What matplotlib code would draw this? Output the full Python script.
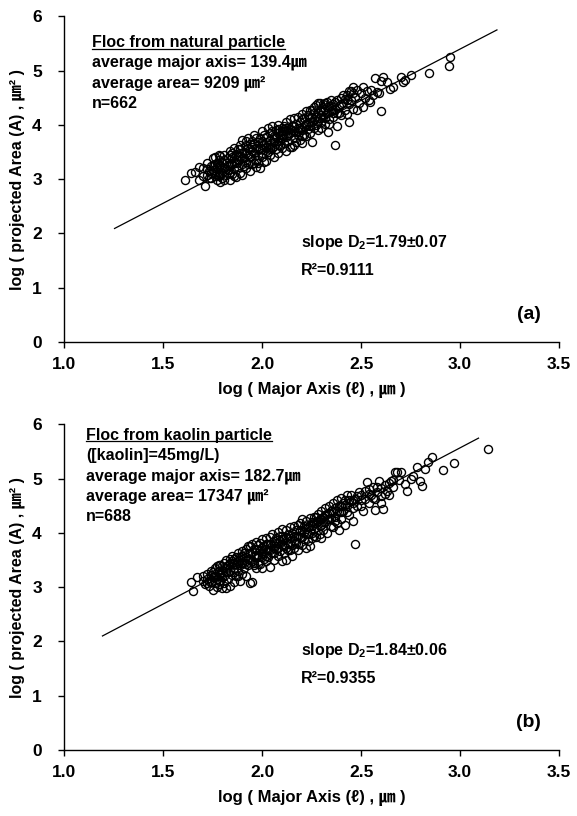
import matplotlib
matplotlib.use("Agg")
import matplotlib.pyplot as plt

plt.rcParams["font.family"] = ["Liberation Sans", "DejaVu Sans", "Noto Sans CJK JP"]
plt.rcParams["font.weight"] = "bold"
plt.rcParams["mathtext.fontset"] = "custom"
plt.rcParams["mathtext.rm"] = "Liberation Sans:bold"
plt.rcParams["mathtext.default"] = "rm"

# ── Panel (a): floc from natural particle ────────────────────────────────────
nat_x = [
    1.61, 1.64, 1.66, 1.68, 1.70, 1.71, 1.72, 1.72, 1.73, 1.74,
    1.74, 1.75, 1.75, 1.76, 1.76, 1.77, 1.77, 1.78, 1.78, 1.78,
    1.79, 1.79, 1.79, 1.80, 1.80, 1.80, 1.81, 1.81, 1.82, 1.82,
    1.83, 1.83, 1.84, 1.84, 1.84, 1.85, 1.85, 1.86, 1.86, 1.86,
    1.87, 1.87, 1.88, 1.88, 1.88, 1.89, 1.89, 1.90, 1.90, 1.90,
    1.91, 1.91, 1.92, 1.92, 1.92, 1.93, 1.93, 1.94, 1.94, 1.94,
    1.95, 1.95, 1.95, 1.96, 1.96, 1.97, 1.97, 1.97, 1.98, 1.98,
    1.99, 1.99, 2.00, 2.00, 2.00, 2.01, 2.01, 2.02, 2.02, 2.02,
    2.03, 2.03, 2.04, 2.04, 2.04, 2.05, 2.05, 2.06, 2.06, 2.06,
    2.07, 2.07, 2.08, 2.08, 2.08, 2.09, 2.09, 2.10, 2.10, 2.10,
    2.11, 2.11, 2.12, 2.12, 2.12, 2.13, 2.13, 2.14, 2.14, 2.14,
    2.15, 2.15, 2.16, 2.16, 2.16, 2.17, 2.17, 2.18, 2.18, 2.18,
    2.19, 2.19, 2.20, 2.20, 2.20, 2.21, 2.21, 2.22, 2.22, 2.22,
    2.23, 2.23, 2.24, 2.24, 2.25, 2.25, 2.25, 2.26, 2.26, 2.26,
    2.27, 2.27, 2.28, 2.28, 2.29, 2.29, 2.30, 2.30, 2.30, 2.31,
    2.31, 2.32, 2.32, 2.33, 2.33, 2.34, 2.34, 2.335, 2.35, 2.35,
    2.36, 2.36, 2.37, 2.37, 2.38, 2.38, 2.38, 2.39, 2.40, 2.40,
    2.41, 2.42, 2.42, 2.43, 2.44, 2.44, 2.45, 2.45, 2.46, 2.46,
    2.47, 2.48, 2.49, 2.50, 2.51, 2.52, 2.53, 2.54, 2.55, 2.56,
    2.57, 2.58, 2.59, 2.60, 2.61, 2.63, 2.66, 2.70, 2.75, 2.95,
    2.645, 2.71, 2.72, 2.845, 2.945, 2.51, 2.545, 2.60, 2.43, 2.48,
    1.78, 1.82, 1.86, 1.90, 1.94, 1.98, 2.02, 2.06, 2.10, 2.14,
    2.18, 2.22, 2.26, 2.30, 2.34, 1.76, 1.84, 1.92, 2.00, 2.08,
    1.72, 1.74, 1.76, 1.77, 1.79, 1.80, 1.81, 1.83, 1.84, 1.85,
    1.86, 1.87, 1.88, 1.89, 1.90, 1.91, 1.92, 1.93, 1.95, 1.96,
    1.97, 1.98, 1.99, 2.00, 2.01, 2.02, 2.03, 2.04, 2.05, 2.07,
    2.08, 2.09, 2.10, 2.11, 2.12, 2.13, 2.15, 2.16, 2.17, 2.19,
    2.20, 2.21, 2.23, 2.24, 2.25, 2.27, 2.28, 2.29, 2.31, 2.32,
    2.33, 2.35, 2.36, 2.37, 2.39, 2.40, 2.41, 2.43, 2.44, 2.46,
    1.68, 1.70, 1.73, 1.75, 1.78, 1.81, 1.85, 1.89, 1.93, 1.96,
    2.00, 2.04, 2.08, 2.12, 2.16, 2.20, 2.24, 2.28, 2.32, 2.36,
]
nat_y = [
    2.99, 3.12, 3.13, 2.99, 3.20, 2.87, 3.08, 3.30, 3.15, 3.25,
    3.02, 3.38, 3.17, 3.10, 3.28, 2.98, 3.22, 3.35, 3.05, 3.14,
    2.95, 3.26, 3.42, 3.12, 3.32, 3.02, 3.20, 3.45, 3.08, 3.30,
    3.16, 3.38, 2.99, 3.24, 3.52, 3.10, 3.40, 3.18, 3.30, 3.58,
    3.04, 3.46, 3.22, 3.35, 3.55, 3.12, 3.42, 3.28, 3.07, 3.72,
    3.38, 3.50, 3.20, 3.62, 3.32, 3.45, 3.76, 3.15, 3.55, 3.40,
    3.28, 3.60, 3.70, 3.48, 3.82, 3.36, 3.58, 3.22, 3.68, 3.45,
    3.20, 3.75, 3.55, 3.40, 3.88, 3.65, 3.32, 3.34, 3.78, 3.52,
    3.94, 3.62, 3.45, 3.72, 3.85, 3.58, 3.98, 3.40, 3.68, 3.80,
    3.55, 3.90, 3.70, 3.48, 4.00, 3.82, 3.62, 3.58, 3.95, 3.75,
    3.88, 3.66, 4.05, 3.52, 3.78, 3.95, 3.70, 3.60, 4.10, 3.85,
    3.60, 3.98, 3.75, 4.12, 3.88, 3.68, 4.02, 3.82, 3.95, 4.15,
    3.72, 4.05, 3.90, 4.20, 3.66, 3.98, 4.12, 3.80, 4.25, 4.02,
    3.92, 4.18, 3.85, 4.28, 4.05, 3.69, 4.15, 3.95, 4.32, 4.10,
    4.36, 4.00, 4.22, 3.90, 4.12, 4.40, 4.05, 4.28, 3.95, 4.39,
    4.15, 4.30, 4.02, 4.22, 4.42, 4.10, 4.35, 3.87, 4.25, 4.45,
    4.15, 4.38, 4.30, 3.62, 3.98, 4.45, 4.22, 4.35, 4.50, 4.18,
    4.40, 4.48, 4.28, 4.55, 4.06, 4.38, 4.62, 4.45, 4.69, 4.30,
    4.52, 4.65, 4.40, 4.58, 4.69, 4.50, 4.62, 4.45, 4.65, 4.55,
    4.86, 4.60, 4.58, 4.25, 4.89, 4.79, 4.70, 4.89, 4.92, 5.25,
    4.66, 4.79, 4.82, 4.96, 5.08, 4.33, 4.43, 4.80, 4.20, 4.28,
    3.25, 3.18, 3.38, 3.48, 3.65, 3.55, 3.60, 3.75, 3.82, 3.92,
    3.88, 4.00, 4.22, 4.18, 4.02, 3.05, 3.45, 3.70, 3.70, 3.85,
    3.18, 3.12, 3.40, 3.30, 3.08, 3.22, 3.35, 3.26, 3.12, 3.48,
    3.05, 3.30, 3.42, 3.55, 3.38, 3.25, 3.48, 3.58, 3.52, 3.30,
    3.75, 3.30, 3.58, 3.62, 3.82, 3.68, 3.50, 3.60, 3.88, 3.78,
    3.92, 3.72, 3.88, 3.98, 3.88, 3.82, 3.90, 3.98, 3.86, 3.95,
    4.10, 3.82, 4.05, 4.12, 4.28, 4.15, 4.40, 4.28, 4.25, 4.40,
    4.32, 4.35, 4.28, 4.42, 4.22, 4.38, 4.55, 4.45, 4.62, 4.58,
    3.22, 3.06, 3.02, 3.25, 3.45, 2.98, 3.28, 3.62, 3.28, 3.65,
    3.48, 3.55, 3.62, 3.95, 3.62, 3.80, 3.98, 4.08, 4.12, 4.22,
]
nat_fit = (1.895, -0.288)      # slope, intercept of drawn line
nat_fit_range = (1.255, 3.186)
nat_notes = ["average major axis= 139.4㎛", "average area= 9209 ㎛²", "n=662"]
nat_stats = ["slope D$_2$=1.79±0.07", "R²=0.9111"]

# ── Panel (b): floc from kaolin particle ─────────────────────────────────────
kao_x = [
    1.64, 1.65, 1.67, 1.70, 1.71, 1.72, 1.72, 1.73, 1.74, 1.74,
    1.75, 1.75, 1.76, 1.76, 1.76, 1.77, 1.77, 1.78, 1.78, 1.78,
    1.79, 1.79, 1.80, 1.80, 1.80, 1.81, 1.81, 1.82, 1.82, 1.82,
    1.83, 1.83, 1.84, 1.84, 1.84, 1.85, 1.85, 1.86, 1.86, 1.86,
    1.87, 1.87, 1.88, 1.88, 1.88, 1.89, 1.89, 1.90, 1.90, 1.90,
    1.91, 1.91, 1.92, 1.92, 1.92, 1.93, 1.93, 1.94, 1.94, 1.94,
    1.95, 1.95, 1.95, 1.96, 1.96, 1.97, 1.97, 1.97, 1.98, 1.98,
    1.99, 1.99, 2.00, 2.00, 2.00, 2.01, 2.01, 2.02, 2.02, 2.02,
    2.03, 2.03, 2.04, 2.04, 2.04, 2.05, 2.05, 2.06, 2.06, 2.06,
    2.07, 2.07, 2.08, 2.08, 2.08, 2.09, 2.09, 2.10, 2.10, 2.10,
    2.11, 2.11, 2.12, 2.12, 2.12, 2.13, 2.13, 2.14, 2.14, 2.14,
    2.15, 2.15, 2.16, 2.16, 2.16, 2.17, 2.17, 2.18, 2.18, 2.18,
    2.19, 2.19, 2.20, 2.20, 2.20, 2.21, 2.21, 2.22, 2.22, 2.22,
    2.23, 2.23, 2.24, 2.24, 2.25, 2.25, 2.25, 2.26, 2.26, 2.26,
    2.27, 2.27, 2.28, 2.28, 2.29, 2.29, 2.30, 2.30, 2.30, 2.31,
    2.31, 2.32, 2.32, 2.33, 2.33, 2.34, 2.34, 2.35, 2.35, 2.36,
    2.36, 2.37, 2.37, 2.38, 2.38, 2.39, 2.39, 2.40, 2.40, 2.40,
    2.41, 2.42, 2.42, 2.43, 2.43, 2.44, 2.45, 2.45, 2.46, 2.46,
    2.47, 2.47, 2.48, 2.49, 2.50, 2.51, 2.52, 2.53, 2.54, 2.55,
    2.56, 2.57, 2.57, 2.58, 2.59, 2.60, 2.61, 2.62, 2.63, 2.65,
    2.66, 2.68, 2.70, 2.72, 2.73, 2.78, 2.80, 2.81, 2.84, 2.86,
    2.825, 2.915, 2.97, 3.14, 2.67, 2.75, 2.60, 2.64, 2.69, 2.76,
    1.78, 1.82, 1.86, 1.90, 1.94, 1.98, 2.02, 2.06, 2.10, 2.14,
    2.18, 2.22, 2.26, 2.30, 2.34, 2.38, 2.42, 2.46, 2.50, 2.54,
    1.72, 1.74, 1.76, 1.77, 1.79, 1.80, 1.81, 1.83, 1.84, 1.85,
    1.86, 1.87, 1.88, 1.89, 1.90, 1.91, 1.92, 1.93, 1.95, 1.96,
    1.97, 1.98, 1.99, 2.00, 2.01, 2.02, 2.03, 2.04, 2.05, 2.07,
    2.08, 2.09, 2.10, 2.11, 2.12, 2.13, 2.15, 2.16, 2.17, 2.19,
    2.20, 2.21, 2.23, 2.24, 2.25, 2.27, 2.28, 2.29, 2.31, 2.32,
    2.33, 2.35, 2.36, 2.37, 2.39, 2.40, 2.41, 2.43, 2.44, 2.46,
    2.48, 2.50, 2.52, 2.54, 2.56, 2.58, 2.60, 2.62, 2.64, 2.66,
    1.70, 1.73, 1.75, 1.78, 1.81, 1.85, 1.89, 1.93, 1.96, 2.00,
]
kao_y = [
    3.10, 2.92, 3.19, 3.12, 3.05, 3.25, 3.15, 3.02, 3.22, 3.10,
    2.95, 3.28, 3.08, 3.20, 3.35, 3.00, 3.15, 3.30, 3.05, 3.40,
    3.12, 3.25, 2.98, 3.38, 3.18, 3.45, 3.08, 3.28, 2.98, 3.50,
    3.15, 3.40, 3.02, 3.52, 3.30, 3.22, 3.58, 3.10, 3.42, 3.35,
    3.55, 3.20, 3.48, 3.30, 3.62, 3.12, 3.40, 3.58, 3.25, 3.66,
    3.45, 3.35, 3.70, 3.20, 3.55, 3.62, 3.40, 3.08, 3.75, 3.50,
    3.10, 3.65, 3.80, 3.45, 3.58, 3.84, 3.35, 3.70, 3.55, 3.78,
    3.42, 3.68, 3.88, 3.55, 3.35, 3.75, 3.62, 3.90, 3.48, 3.70,
    3.80, 3.55, 3.37, 3.92, 3.68, 3.76, 3.98, 3.62, 3.85, 3.50,
    3.90, 3.70, 3.58, 4.02, 3.82, 3.66, 3.95, 4.08, 3.78, 3.48,
    3.88, 3.62, 4.05, 3.72, 3.50, 3.96, 3.80, 4.10, 3.68, 3.90,
    3.58, 4.00, 3.85, 4.12, 3.72, 3.95, 4.05, 3.80, 4.15, 3.68,
    3.92, 4.18, 4.05, 3.78, 4.25, 3.88, 4.12, 4.22, 3.98, 3.72,
    4.10, 3.85, 4.28, 3.76, 4.00, 4.20, 3.90, 4.30, 4.08, 3.95,
    4.18, 3.92, 4.35, 4.05, 4.25, 3.98, 4.40, 3.90, 4.15, 4.30,
    4.05, 4.45, 4.20, 4.35, 4.00, 4.50, 4.25, 4.12, 4.40, 4.11,
    4.55, 4.30, 4.45, 4.18, 4.60, 4.38, 4.05, 4.50, 4.25, 4.65,
    4.40, 4.60, 4.15, 4.50, 4.70, 4.32, 4.58, 4.70, 4.22, 4.45,
    4.62, 3.80, 4.50, 4.75, 4.60, 4.40, 4.78, 4.94, 4.55, 4.70,
    4.85, 4.42, 4.62, 4.75, 4.96, 4.68, 4.44, 4.88, 4.78, 4.95,
    4.85, 5.12, 5.12, 4.90, 4.78, 5.22, 4.96, 4.87, 5.30, 5.40,
    5.18, 5.15, 5.29, 5.55, 5.13, 5.00, 4.55, 4.70, 4.98, 5.05,
    3.22, 3.35, 3.28, 3.45, 3.62, 3.60, 3.58, 3.72, 3.88, 3.80,
    3.95, 4.08, 4.18, 4.25, 4.36, 4.40, 4.52, 4.60, 4.70, 4.80,
    3.08, 3.30, 3.25, 3.38, 3.40, 3.28, 3.20, 3.28, 3.45, 3.45,
    3.52, 3.42, 3.20, 3.55, 3.45, 3.62, 3.42, 3.75, 3.48, 3.70,
    3.60, 3.42, 3.82, 3.72, 3.52, 3.80, 3.68, 3.80, 3.62, 3.82,
    3.72, 3.85, 3.95, 3.75, 3.92, 3.68, 3.78, 3.95, 3.82, 4.05,
    3.92, 4.02, 3.98, 4.15, 4.12, 4.30, 4.22, 4.12, 4.20, 4.32,
    4.25, 4.28, 4.38, 4.22, 4.50, 4.38, 4.55, 4.38, 4.60, 4.55,
    4.68, 4.50, 4.62, 4.72, 4.65, 4.85, 4.82, 4.72, 4.92, 4.98,
    3.20, 3.12, 3.18, 3.12, 3.35, 3.48, 3.50, 3.52, 3.40, 3.62,
]
kao_fit = (1.92, -0.193)
kao_fit_range = (1.194, 3.093)
kao_notes = ["([kaolin]=45mg/L)", "average major axis= 182.7㎛",
             "average area= 17347 ㎛²", "n=688"]
kao_stats = ["slope D$_2$=1.84±0.06", "R²=0.9355"]

x_ticks = [1.0, 1.5, 2.0, 2.5, 3.0, 3.5]
y_ticks = [0, 1, 2, 3, 4, 5, 6]


def draw_panel(ax, xs, ys, fit, fit_range, title, title_xy, notes, stats, tag):
    ax.plot(xs, ys, linestyle="none", marker="o", markersize=5.8,
            markerfacecolor="none", markeredgecolor="black", markeredgewidth=1.0)
    a, b = fit
    ax.plot(list(fit_range), [a * fit_range[0] + b, a * fit_range[1] + b],
            color="black", linewidth=0.9)

    ax.set_xlim(1.0, 3.5)
    ax.set_ylim(0, 6)
    ax.set_xticks(x_ticks)
    ax.set_xticklabels([f"{t:.1f}" for t in x_ticks])
    ax.set_yticks(y_ticks)
    for s in ("top", "right"):
        ax.spines[s].set_visible(False)
    for s in ("left", "bottom"):
        ax.spines[s].set_linewidth(1.0)
    ax.tick_params(axis="both", direction="out", length=4, width=1.0,
                   labelsize=12.5)
    ax.tick_params(axis="x", pad=7)
    ax.tick_params(axis="y", pad=12)
    ax.set_xlabel("log ( Major Axis (ℓ) , ㎛ )", fontsize=12,
                  fontweight="bold", labelpad=7)
    ax.set_ylabel("log ( projected Area (A) , ㎛² )", fontsize=11.5,
                  fontweight="bold", labelpad=5)

    tx, ty = title_xy
    t = ax.text(tx, ty, title, fontsize=11.5, fontweight="bold", va="center")
    for i, line in enumerate(notes):
        ax.text(tx, ty - 0.375 * (i + 1), line, fontsize=11.5,
                fontweight="bold", va="center")
    ax.text(2.195, 1.84, stats[0], fontsize=11.5, fontweight="bold", va="center")
    ax.text(2.195, 1.32, stats[1], fontsize=11.5, fontweight="bold", va="center")
    ax.text(3.41, 0.5, tag, fontsize=14, fontweight="bold", va="center",
            ha="right")
    return t


fig = plt.figure(figsize=(5.77, 8.16), dpi=100)
ax1 = fig.add_axes([0.111, 0.581, 0.858, 0.399])
ax2 = fig.add_axes([0.111, 0.081, 0.858, 0.399])

t1 = draw_panel(ax1, nat_x, nat_y, nat_fit, nat_fit_range,
                "Floc from natural particle", (1.14, 5.52), nat_notes, nat_stats, "(a)")
t2 = draw_panel(ax2, kao_x, kao_y, kao_fit, kao_fit_range,
                "Floc from kaolin particle", (1.11, 5.80), kao_notes, kao_stats, "(b)")

# underline the panel titles
fig.canvas.draw()
renderer = fig.canvas.get_renderer()
for ax, t in ((ax1, t1), (ax2, t2)):
    bb = t.get_window_extent(renderer).transformed(ax.transAxes.inverted())
    ax.plot([bb.x0, bb.x1], [bb.y0 + 0.004, bb.y0 + 0.004], color="black",
            linewidth=0.9, transform=ax.transAxes, clip_on=False)

fig.savefig("out.png", dpi=100)
